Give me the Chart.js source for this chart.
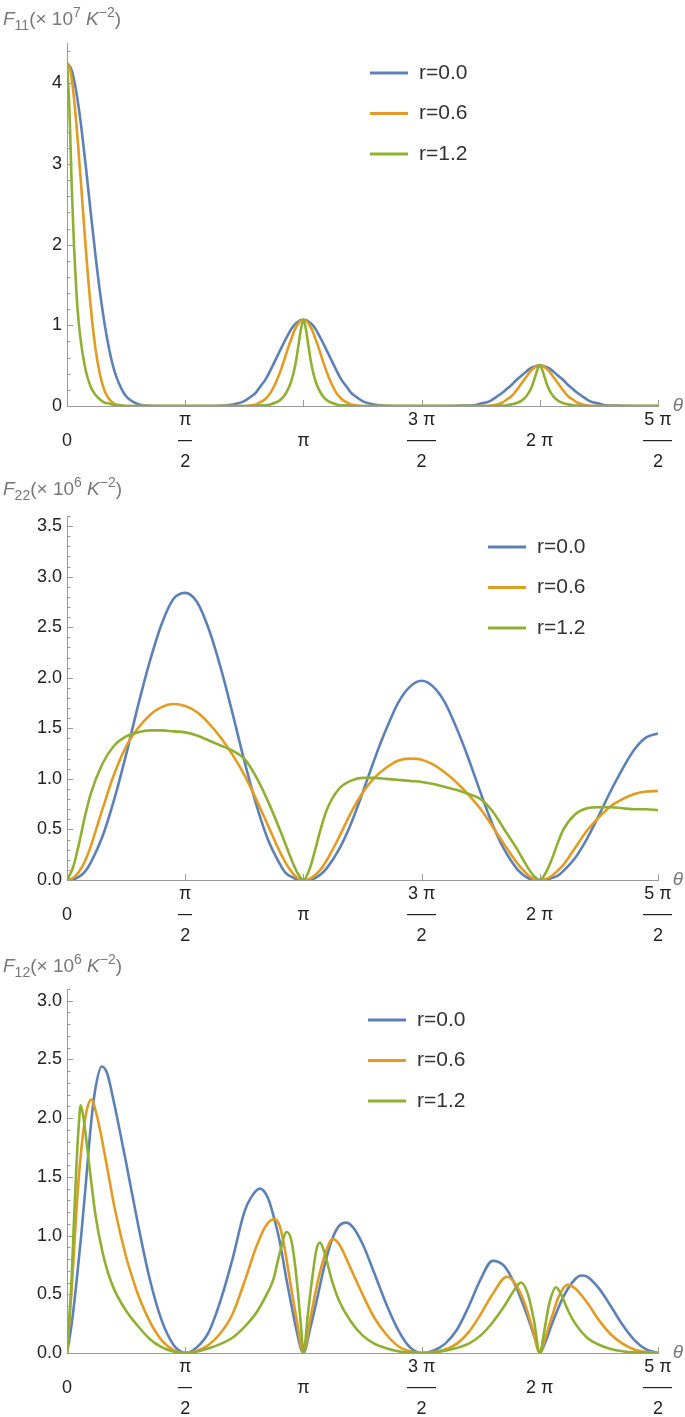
<!DOCTYPE html>
<html>
<head>
<meta charset="utf-8">
<script src="https://cdn.jsdelivr.net/npm/chart.js@4.4.1/dist/chart.umd.min.js"></script>
<style>
  html, body { margin: 0; padding: 0; background: #fff; }
  #wrap { position: relative; width: 685px; height: 1417px; }
  canvas { position: absolute; left: 0; }
</style>
</head>
<body>
<div id="wrap">
  <canvas id="c1" width="685" height="470" style="top:0px"></canvas>
  <canvas id="c2" width="685" height="475" style="top:470px"></canvas>
  <canvas id="c3" width="685" height="472" style="top:945px"></canvas>
</div>
<script>
// ------------------------------------------------------------
// Data (theta in units of pi)
// ------------------------------------------------------------
const seriesLabels = ['r=0.0', 'r=0.6', 'r=1.2'];
const xTickVals = [0, 0.5, 1, 1.5, 2, 2.5];
const xTickLabels = [['0'], ['π', '2'], ['π'], ['3 π', '2'], ['2 π'], ['5 π', '2']];

// F11 (x 10^7 K^-2)
const theta1 = [0, .01, .02, .03, .04, .05, .06, .08, .10, .12, .14, .16, .18, .20, .22, .25, .28, .32, .40,
    .50,
    .60, .68, .72, .75, .78, .80, .82, .84, .86, .88, .90, .92, .94, .95, .96, .97, .98, .99,
    1.00,
    1.01, 1.02, 1.03, 1.04, 1.05, 1.06, 1.08, 1.10, 1.12, 1.14, 1.16, 1.18, 1.20, 1.22, 1.25, 1.28, 1.32, 1.40,
    1.50,
    1.60, 1.68, 1.72, 1.75, 1.78, 1.80, 1.82, 1.84, 1.86, 1.88, 1.90, 1.92, 1.94, 1.95, 1.96, 1.97, 1.98, 1.99,
    2.00,
    2.01, 2.02, 2.03, 2.04, 2.05, 2.06, 2.08, 2.10, 2.12, 2.14, 2.16, 2.18, 2.20, 2.22, 2.25, 2.28, 2.32, 2.40,
    2.50];
const f11Blue = [4.25, 4.22, 4.16, 4.04, 3.88, 3.69, 3.47, 2.96, 2.41, 1.88, 1.40, 1.00, 0.68, 0.44, 0.28, 0.12, 0.05, 0.01, 0,
    0,
    0, 0.01, 0.03, 0.06, 0.12, 0.17, 0.25, 0.33, 0.44, 0.56, 0.68, 0.80, 0.91, 0.96, 1.00, 1.03, 1.05, 1.065,
    1.07,
    1.065, 1.05, 1.03, 1.00, 0.96, 0.91, 0.80, 0.68, 0.56, 0.44, 0.33, 0.25, 0.17, 0.12, 0.06, 0.03, 0.01, 0,
    0,
    0, 0.005, 0.01, 0.03, 0.05, 0.08, 0.12, 0.16, 0.21, 0.26, 0.32, 0.37, 0.42, 0.445, 0.465, 0.48, 0.49, 0.50,
    0.50,
    0.50, 0.49, 0.48, 0.465, 0.445, 0.42, 0.37, 0.32, 0.26, 0.21, 0.16, 0.12, 0.08, 0.05, 0.03, 0.01, 0.005, 0,
    0];
const f11Orange = [4.25, 4.20, 4.05, 3.80, 3.49, 3.12, 2.73, 1.93, 1.24, 0.72, 0.38, 0.18, 0.08, 0.03, 0.01, 0, 0, 0, 0,
    0,
    0, 0, 0, 0, 0.01, 0.02, 0.05, 0.09, 0.16, 0.27, 0.41, 0.58, 0.76, 0.84, 0.92, 0.98, 1.03, 1.06,
    1.07,
    1.06, 1.03, 0.98, 0.92, 0.84, 0.76, 0.58, 0.41, 0.27, 0.16, 0.09, 0.05, 0.02, 0.01, 0, 0, 0, 0,
    0,
    0, 0, 0, 0, 0, 0.01, 0.02, 0.04, 0.08, 0.12, 0.19, 0.27, 0.35, 0.39, 0.43, 0.46, 0.48, 0.495,
    0.50,
    0.495, 0.48, 0.46, 0.43, 0.39, 0.35, 0.27, 0.19, 0.12, 0.08, 0.04, 0.02, 0.01, 0, 0, 0, 0, 0,
    0];
const f11Green = [4.25, 3.70, 2.72, 1.96, 1.40, 1.02, 0.77, 0.43, 0.24, 0.14, 0.08, 0.04, 0.03, 0.01, 0.01, 0, 0, 0, 0,
    0,
    0, 0, 0, 0, 0, 0, 0.01, 0.01, 0.02, 0.04, 0.07, 0.13, 0.24, 0.32, 0.43, 0.58, 0.77, 0.96,
    1.07,
    0.96, 0.77, 0.58, 0.43, 0.32, 0.24, 0.13, 0.07, 0.04, 0.02, 0.01, 0.01, 0, 0, 0, 0, 0, 0,
    0,
    0, 0, 0, 0, 0, 0, 0.003, 0.006, 0.01, 0.02, 0.035, 0.06, 0.11, 0.15, 0.20, 0.27, 0.36, 0.45,
    0.50,
    0.45, 0.36, 0.27, 0.20, 0.15, 0.11, 0.06, 0.035, 0.02, 0.01, 0.006, 0.003, 0, 0, 0, 0, 0, 0,
    0];

// F22 (x 10^6 K^-2)
const theta2 = [0, .025, .05, .075, .1, .15, .2, .25, .3, .35, .4, .45, .5, .55, .6, .65, .7, .75, .8, .85, .9, .925, .95, .975,
    1, 1.025, 1.05, 1.075, 1.1, 1.15, 1.2, 1.25, 1.3, 1.35, 1.4, 1.45, 1.5, 1.55, 1.6, 1.65, 1.7, 1.75, 1.8, 1.85, 1.9, 1.925, 1.95, 1.975,
    2, 2.025, 2.05, 2.075, 2.1, 2.15, 2.2, 2.25, 2.3, 2.35, 2.4, 2.45, 2.5];
const f22Blue = [0, 0.005, 0.03, 0.08, 0.17, 0.43, 0.80, 1.24, 1.72, 2.16, 2.53, 2.78, 2.84, 2.75, 2.48, 2.10, 1.65, 1.18, 0.75, 0.40, 0.16, 0.07, 0.03, 0.005,
    0, 0.003, 0.02, 0.06, 0.12, 0.30, 0.55, 0.86, 1.19, 1.49, 1.75, 1.91, 1.97, 1.91, 1.75, 1.49, 1.19, 0.86, 0.55, 0.30, 0.12, 0.06, 0.02, 0.003,
    0, 0.002, 0.02, 0.04, 0.09, 0.22, 0.41, 0.64, 0.88, 1.10, 1.29, 1.41, 1.45];
const f22Orange = [0, 0.02, 0.08, 0.18, 0.33, 0.70, 1.05, 1.32, 1.50, 1.63, 1.71, 1.74, 1.72, 1.66, 1.55, 1.41, 1.24, 1.04, 0.80, 0.54, 0.28, 0.17, 0.08, 0.02,
    0, 0.01, 0.05, 0.11, 0.20, 0.42, 0.66, 0.86, 1.01, 1.11, 1.18, 1.20, 1.19, 1.14, 1.06, 0.96, 0.84, 0.70, 0.53, 0.35, 0.18, 0.11, 0.05, 0.01,
    0, 0.01, 0.04, 0.09, 0.15, 0.32, 0.49, 0.62, 0.73, 0.80, 0.85, 0.875, 0.88];
const f22Green = [0, 0.12, 0.35, 0.62, 0.85, 1.15, 1.33, 1.42, 1.46, 1.48, 1.48, 1.47, 1.46, 1.43, 1.38, 1.33, 1.28, 1.20, 1.02, 0.78, 0.50, 0.35, 0.20, 0.07,
    0, 0.10, 0.30, 0.52, 0.70, 0.90, 0.98, 1.01, 1.01, 1.00, 0.99, 0.98, 0.97, 0.95, 0.92, 0.89, 0.85, 0.80, 0.68, 0.50, 0.32, 0.22, 0.12, 0.04,
    0, 0.07, 0.20, 0.36, 0.50, 0.65, 0.71, 0.72, 0.72, 0.71, 0.70, 0.70, 0.69];

// F12 (x 10^6 K^-2), each curve sampled on its own theta grid
const theta3Blue = [0, .02, .041, .06, .08, .10, .12, .147, .17, .20, .25, .30, .35, .40, .45, .475, .50,
    .55, .60, .65, .70, .75, .78, .816, .85, .88, .90, .929, .95, .97, 1.0,
    1.03, 1.06, 1.09, 1.12, 1.15, 1.18, 1.21, 1.25, 1.30, 1.35, 1.40, 1.45, 1.50,
    1.55, 1.60, 1.65, 1.70, 1.75, 1.80, 1.85, 1.90, 1.95, 1.98, 2.0,
    2.025, 2.05, 2.10, 2.15, 2.176, 2.20, 2.25, 2.30, 2.35, 2.40, 2.45, 2.50];
const f12Blue = [0, 0.25, 0.62, 1.0, 1.45, 1.92, 2.25, 2.44, 2.38, 2.12, 1.62, 1.10, 0.63, 0.28, 0.07, 0.02, 0,
    0.05, 0.18, 0.45, 0.80, 1.20, 1.33, 1.40, 1.32, 1.12, 0.95, 0.62, 0.40, 0.20, 0,
    0.22, 0.48, 0.75, 0.96, 1.08, 1.11, 1.07, 0.93, 0.68, 0.42, 0.20, 0.05, 0,
    0.02, 0.08, 0.20, 0.40, 0.63, 0.785, 0.74, 0.56, 0.30, 0.12, 0,
    0.10, 0.24, 0.48, 0.63, 0.66, 0.65, 0.55, 0.40, 0.24, 0.11, 0.03, 0];
const theta3Orange = [0, .02, .034, .05, .07, .085, .104, .12, .14, .168, .20, .25, .28, .30, .35, .40, .45, .50,
    .55, .60, .65, .70, .753, .80, .84, .877, .90, .92, .943, .97, 1.0,
    1.03, 1.06, 1.09, 1.124, 1.15, 1.20, 1.25, 1.30, 1.35, 1.40, 1.45, 1.50,
    1.60, 1.65, 1.70, 1.75, 1.80, 1.861, 1.90, 1.94, 1.97, 2.0,
    2.025, 2.05, 2.08, 2.117, 2.15, 2.20, 2.25, 2.30, 2.35, 2.40, 2.45, 2.50];
const f12Orange = [0, 0.55, 1.02, 1.5, 1.9, 2.08, 2.16, 2.07, 1.90, 1.60, 1.25, 0.82, 0.62, 0.50, 0.27, 0.11, 0.025, 0,
    0.02, 0.07, 0.17, 0.33, 0.62, 0.90, 1.08, 1.14, 1.08, 0.90, 0.62, 0.30, 0,
    0.30, 0.60, 0.83, 0.97, 0.93, 0.72, 0.50, 0.30, 0.16, 0.06, 0.015, 0,
    0.03, 0.08, 0.18, 0.33, 0.50, 0.65, 0.58, 0.40, 0.20, 0,
    0.14, 0.30, 0.48, 0.58, 0.55, 0.43, 0.28, 0.16, 0.08, 0.03, 0.008, 0];
const theta3Green = [0, .01, .02, .03, .04, .05, .058, .07, .083, .10, .12, .15, .174, .20, .25, .30, .35, .40, .45, .50,
    .60, .70, .75, .80, .85, .872, .90, .929, .95, .972, .99, 1.0,
    1.02, 1.04, 1.055, 1.07, 1.09, 1.12, 1.15, 1.20, 1.25, 1.30, 1.35, 1.40, 1.45, 1.50,
    1.60, 1.70, 1.75, 1.80, 1.85, 1.90, 1.92, 1.95, 1.975, 2.0,
    2.02, 2.04, 2.069, 2.09, 2.12, 2.15, 2.20, 2.25, 2.30, 2.35, 2.40, 2.50];
const f12Green = [0, 0.30, 0.65, 1.15, 1.6, 1.95, 2.11, 2.0, 1.79, 1.50, 1.18, 0.86, 0.68, 0.54, 0.36, 0.23, 0.12, 0.05, 0.012, 0,
    0.04, 0.13, 0.22, 0.34, 0.52, 0.62, 0.85, 1.03, 0.95, 0.62, 0.22, 0,
    0.35, 0.68, 0.88, 0.94, 0.85, 0.62, 0.45, 0.27, 0.15, 0.08, 0.04, 0.015, 0.003, 0,
    0.02, 0.08, 0.15, 0.26, 0.40, 0.56, 0.60, 0.50, 0.28, 0,
    0.20, 0.42, 0.56, 0.50, 0.36, 0.25, 0.13, 0.07, 0.035, 0.015, 0.005, 0];

const yTicks1 = [0, 1, 2, 3, 4];
const yTicks2 = [0, 0.5, 1.0, 1.5, 2.0, 2.5, 3.0, 3.5];
const yTicks3 = [0, 0.5, 1.0, 1.5, 2.0, 2.5, 3.0];

// ------------------------------------------------------------
// Styling
// ------------------------------------------------------------
const COLORS = ['#5E81B5', '#E19C24', '#8FB032'];
const AXIS = '#9a9a9a';
const FONT = '"Liberation Sans", Arial, sans-serif';

const panels = [
    { id: 'c1', top: 43, bottom: 406, yMax: 4.5, yTicks: yTicks1, minor: 0.2, dec: 0,
      title: { sub: '11', pow: '7', y: 18 }, legend: { x: 370, y: 73 },
      series: [[theta1, f11Blue], [theta1, f11Orange], [theta1, f11Green]] },
    { id: 'c2', top: 46, bottom: 410, yMax: 3.6, yTicks: yTicks2, minor: 0.1, dec: 1,
      title: { sub: '22', pow: '6', y: 18 }, legend: { x: 488, y: 77 },
      series: [[theta2, f22Blue], [theta2, f22Orange], [theta2, f22Green]] },
    { id: 'c3', top: 44, bottom: 408, yMax: 3.1, yTicks: yTicks3, minor: 0.1, dec: 1,
      title: { sub: '12', pow: '6', y: 20 }, legend: { x: 368, y: 75 },
      series: [[theta3Blue, f12Blue], [theta3Orange, f12Orange], [theta3Green, f12Green]] },
];

/**
 * Ticks, fraction labels, axis title and legend (Mathematica look)
 */
function decorPlugin(p) {
    return {
        id: 'decor',
        beforeDatasetsDraw(chart) {
            const { ctx, chartArea: a } = chart;
            const x = chart.scales.x, y = chart.scales.y;
            ctx.save();
            ctx.strokeStyle = AXIS;
            ctx.lineWidth = 1;
            ctx.beginPath();
            const n = Math.round(p.yMax / p.minor);
            for (let i = 1; i <= n; i++) {
                const v = i * p.minor;
                if (v > p.yMax + 1e-9) break;
                const major = p.yTicks.some(m => Math.abs(m - v) < 1e-6);
                const py = Math.round(y.getPixelForValue(v)) + 0.5;
                ctx.moveTo(a.left, py);
                ctx.lineTo(a.left + (major ? 6 : 3.5), py);
            }
            xTickVals.slice(1).forEach(v => {
                const px = Math.round(x.getPixelForValue(v)) + 0.5;
                ctx.moveTo(px, a.bottom);
                ctx.lineTo(px, a.bottom - 6);
            });
            ctx.stroke();
            ctx.restore();
        },
        afterDraw(chart) {
            const { ctx, chartArea: a } = chart;
            const x = chart.scales.x;
            ctx.save();

            // x tick labels (fractions of pi)
            ctx.fillStyle = '#222';
            ctx.font = '18px ' + FONT;
            ctx.textAlign = 'center';
            ctx.textBaseline = 'middle';
            xTickVals.forEach((v, i) => {
                const px = x.getPixelForValue(v);
                const lab = xTickLabels[i];
                if (lab.length === 1) {
                    ctx.fillText(lab[0], px, a.bottom + 35);
                } else {
                    ctx.fillText(lab[0], px, a.bottom + 14);
                    ctx.fillText(lab[1], px, a.bottom + 56);
                    const w = ctx.measureText(lab[0]).width + 2;
                    ctx.fillRect(Math.round(px - w / 2), a.bottom + 34, Math.round(w), 1.2);
                }
            });

            // theta axis label
            ctx.fillStyle = '#777';
            ctx.font = 'italic 19px ' + FONT;
            ctx.fillText('θ', a.right + 20, a.bottom);

            // axis title  F_ij (x 10^k K^-2)
            ctx.textAlign = 'left';
            ctx.textBaseline = 'alphabetic';
            const base = p.title.y + 7;
            let cx = 3;
            const put = (txt, font, dy) => {
                ctx.font = font;
                ctx.fillText(txt, cx, base + dy);
                cx += ctx.measureText(txt).width;
            };
            put('F', 'italic 19px ' + FONT, 0);
            put(p.title.sub, '14px ' + FONT, 5);
            put('(× 10', '19px ' + FONT, 0);
            put(p.title.pow, '14px ' + FONT, -8);
            put(' K', 'italic 19px ' + FONT, 0);
            put('−2', '14px ' + FONT, -8);
            put(')', '19px ' + FONT, 0);

            // legend
            ctx.textBaseline = 'middle';
            ctx.font = '21px ' + FONT;
            chart.data.datasets.forEach((ds, i) => {
                const ly = p.legend.y + i * 40.5;
                ctx.strokeStyle = ds.borderColor;
                ctx.lineWidth = 3;
                ctx.beginPath();
                ctx.moveTo(p.legend.x, ly);
                ctx.lineTo(p.legend.x + 38, ly);
                ctx.stroke();
                ctx.fillStyle = '#333';
                ctx.fillText(ds.label, p.legend.x + 49, ly);
            });
            ctx.restore();
        },
    };
}

function createPanel(p) {
    const canvas = document.getElementById(p.id);
    const H = canvas.height;
    return new Chart(canvas.getContext('2d'), {
        type: 'line',
        data: {
            datasets: p.series.map((s, i) => ({
                label: seriesLabels[i],
                data: s[0].map((t, k) => ({ x: t, y: s[1][k] })),
                borderColor: COLORS[i],
                borderWidth: 2.6,
                pointRadius: 0,
                fill: false,
                cubicInterpolationMode: 'monotone',
                order: 2 - i,
            })),
        },
        options: {
            responsive: false,
            animation: false,
            devicePixelRatio: 1,
            layout: { padding: { top: p.top, right: 27, left: 0, bottom: 0 } },
            plugins: { legend: { display: false }, tooltip: { enabled: false } },
            scales: {
                x: {
                    type: 'linear', min: 0, max: 2.5,
                    afterBuildTicks: sc => { sc.ticks = xTickVals.map(v => ({ value: v })); },
                    afterFit: sc => { sc.height = H - p.bottom; },
                    ticks: { display: false },
                    grid: { display: false, drawTicks: false },
                    border: { display: true, color: AXIS, width: 1 },
                },
                y: {
                    type: 'linear', min: 0, max: p.yMax,
                    afterBuildTicks: sc => { sc.ticks = p.yTicks.map(v => ({ value: v })); },
                    afterFit: sc => { sc.width = 67; },
                    ticks: {
                        padding: 5, color: '#222', autoSkip: false,
                        font: { family: FONT, size: 18 },
                        callback: v => Number(v).toFixed(p.dec),
                    },
                    grid: { display: false, drawTicks: false },
                    border: { display: true, color: AXIS, width: 1 },
                },
            },
        },
        plugins: [decorPlugin(p)],
    });
}

panels.forEach(createPanel);
</script>
</body>
</html>
